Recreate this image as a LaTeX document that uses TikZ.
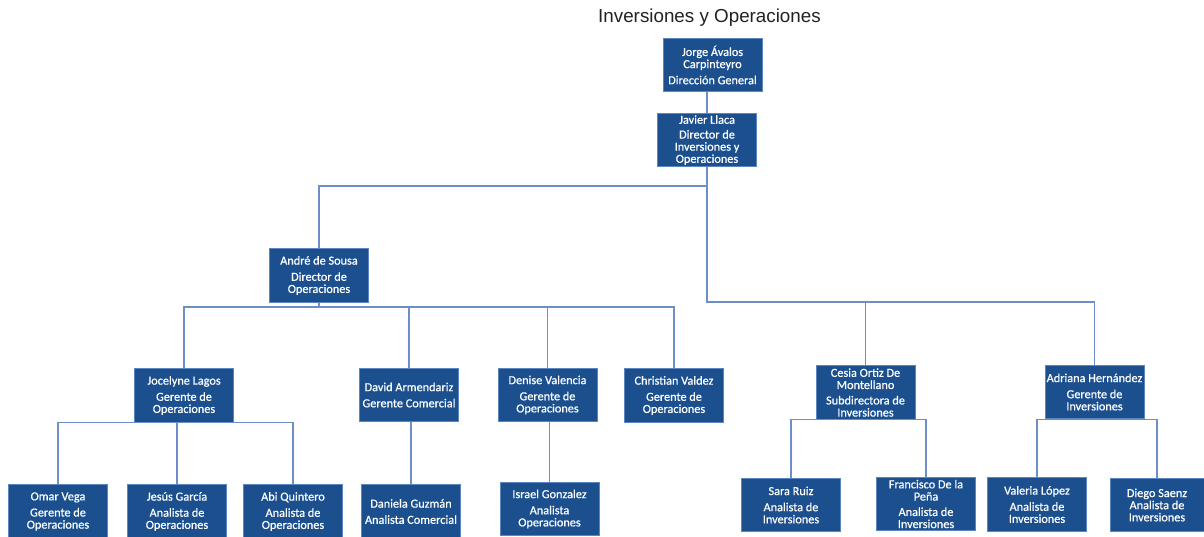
\documentclass[tikz,border=0pt]{standalone}
\usepackage{fontspec}
\setmainfont{Carlito}
\newfontfamily\boxfam{Carlito}[FakeBold=0.6]
\newfontfamily\titlefont{Liberation Sans}
\definecolor{boxfill}{HTML}{1B4F8E}
\definecolor{boxedge}{HTML}{5B86BF}
\definecolor{linkcol}{HTML}{6C90C6}
\definecolor{titlecol}{HTML}{222222}
\newcommand{\boxfont}{\boxfam\fontsize{9.2}{9.1}\selectfont}
\begin{document}
\begin{tikzpicture}[x=0.75pt,y=-0.75pt,
  orgbox/.style={draw=boxedge, fill=boxfill, text=white, line width=0.75pt,
    inner sep=0pt, minimum width=74.25pt, minimum height=40pt, align=center, font=\boxfont},
  link/.style={draw=linkcol, line width=0.8pt}]
\useasboundingbox (0,0) rectangle (1204,536);
\clip (0,0) rectangle (1204,536);
\fill[white] (0,0) rectangle (1204,536);

\node[font=\titlefont\fontsize{14.1}{16}\selectfont, text=titlecol] (title) at (709.5,18) {Inversiones y Operaciones};

% levels
\coordinate (busA) at (0,186);
\coordinate (busB) at (0,302);
\coordinate (busC) at (0,307);

\node[orgbox] (jorge) at (712.5,65) {Jorge Ávalos\\Carpinteyro\\[3pt]Dirección General};
\node[orgbox] (javier) at (707,140) {Javier Llaca\\[2pt]Director de\\Inversiones y\\Operaciones};
\node[orgbox] (andre) at (319,275.5) {André de Sousa\\[3pt]Director de\\Operaciones};

\node[orgbox] (jocelyne) at (184,395.5) {Jocelyne Lagos\\[3pt]Gerente de\\Operaciones};
\node[orgbox] (david) at (409,395) {David Armendariz\\[3pt]Gerente Comercial};
\node[orgbox] (denise) at (547.5,395) {Denise Valencia\\[3pt]Gerente de\\Operaciones};
\node[orgbox] (christian) at (674,395.5) {Christian Valdez\\[3pt]Gerente de\\Operaciones};
\node[orgbox] (cesia) at (865.5,392.5) {Cesia Ortiz De\\Montellano\\[2.5pt]Subdirectora de\\Inversiones};
\node[orgbox] (adriana) at (1094.5,392) {Adriana Hernández\\[3pt]Gerente de\\Inversiones};

\node[orgbox] (omar) at (58,511.5) {Omar Vega\\[3pt]Gerente de\\Operaciones};
\node[orgbox] (jesus) at (177,511.5) {Jesús García\\[3pt]Analista de\\Operaciones};
\node[orgbox] (abi) at (293,511.5) {Abi Quintero\\[3pt]Analista de\\Operaciones};
\node[orgbox] (daniela) at (411,511.5) {Daniela Guzmán\\[3pt]Analista Comercial};
\node[orgbox] (israel) at (549.5,509) {Israel Gonzalez\\[3pt]Analista\\Operaciones};
\node[orgbox] (sara) at (791,505) {Sara Ruiz\\[3pt]Analista de\\Inversiones};
\node[orgbox] (francisco) at (926,504) {Francisco De la\\Peña\\[2.5pt]Analista de\\Inversiones};
\node[orgbox] (valeria) at (1037,504.5) {Valeria López\\[3pt]Analista de\\Inversiones};
\node[orgbox, minimum width=70.5pt] (diego) at (1157,505) {Diego Saenz\\Analista de\\Inversiones};

% connectors
\draw[link] (javier.north) -- (javier.north |- jorge.south);
\draw[link] (javier.south) -- (javier.south |- busA) -| (andre.north);
\draw[link] (javier.south |- busA) -- (javier.south |- busB) -| (cesia.north);
\draw[link] (javier.south |- busB) -| (adriana.north);

\draw[link] (andre.south) -- (andre.south |- busC) -| (jocelyne.north);
\draw[link] (andre.south |- busC) -| (david.north);
\draw[link] (andre.south |- busC) -| (denise.north);
\draw[link] (andre.south |- busC) -| (christian.north);

\draw[link] (jocelyne.south) -| (omar.north);
\draw[link] (jocelyne.south) -| (jesus.north);
\draw[link] (jocelyne.south) -| (abi.north);

\draw[link] (daniela.north) -- (daniela.north |- david.south);
\draw[link] (israel.north) -- (israel.north |- denise.south);

\draw[link] (cesia.south) -| (sara.north);
\draw[link] (cesia.south) -| (francisco.north);
\draw[link] (adriana.south) -| (valeria.north);
\draw[link] (adriana.south) -| (diego.north);
\end{tikzpicture}
\end{document}
